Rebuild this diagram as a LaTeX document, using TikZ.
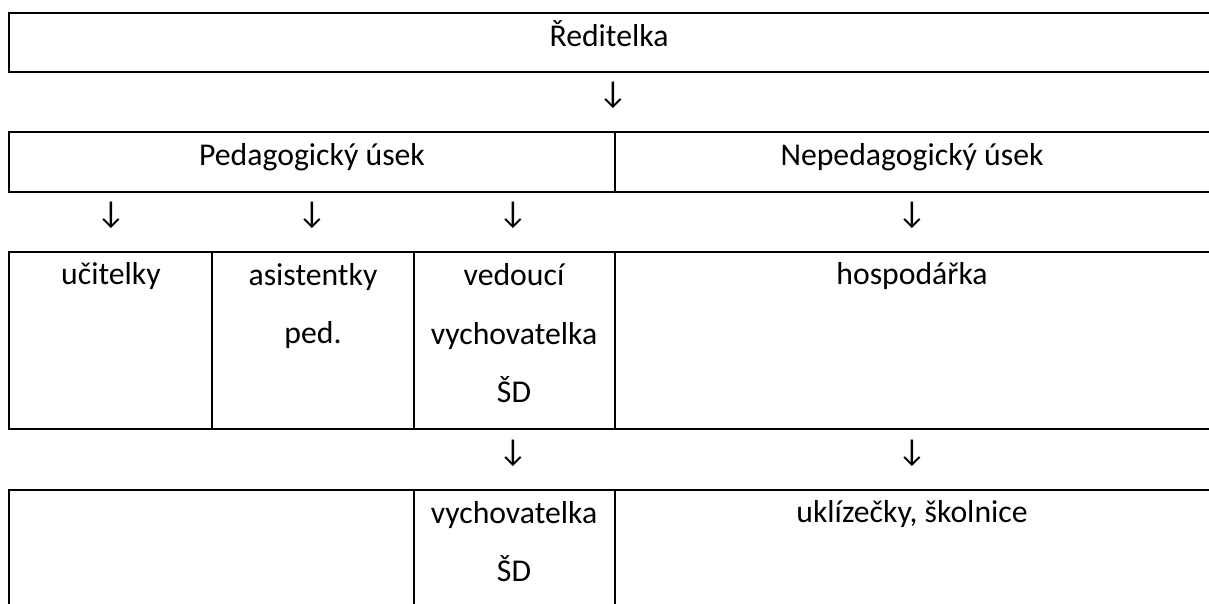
\documentclass[tikz,border=0pt]{standalone}
\usepackage{fontspec}
\setmainfont{Carlito}
\usepackage{tikz}

\begin{document}
\begin{tikzpicture}[x=0.375pt,y=-0.375pt,
        grid/.style = {line width=0.75pt},
        lbl/.style = {anchor=base, inner sep=0pt, align=center, font=\fontsize{11.9}{22.1}\selectfont},
        dn/.style = {lbl}]
        \useasboundingbox (0,0) rectangle (1209,604);
        \clip (0,0) rectangle (1209,604);
        % table lines
        \draw[grid] (9,13) rectangle (1240,72);
        \draw[grid] (9,132) rectangle (1240,192);
        \draw[grid] (615,132) -- (615,192);
        \draw[grid] (9,252) rectangle (1240,429);
        \foreach \x in {212,414,615} \draw[grid] (\x,252) -- (\x,429);
        \draw[grid] (9,640) -- (9,490) -- (1240,490);
        \foreach \x in {414,615} \draw[grid] (\x,490) -- (\x,640);
        % cells (base = last line)
        \node[lbl] (reditelka) at (609,47) {Ředitelka};
        \node[lbl] (ped) at (312,166) {Pedagogický úsek};
        \node[lbl] (neped) at (912,166) {Nepedagogický úsek};
        \node[lbl] (ucitelky) at (111,285) {učitelky};
        \node[lbl] (asist) at (313,344) {asistentky\\ped.};
        \node[lbl] (vedouci) at (514,403) {vedoucí\\vychovatelka\\ŠD};
        \node[lbl] (hosp) at (912,285) {hospodářka};
        \node[lbl] (vychov) at (514,582) {vychovatelka\\ŠD};
        \node[lbl] (uklid) at (912,523) {uklízečky, školnice};
        % arrows
        \node[dn] (d1) at (613,104) {↓};
        \node[dn] (d2) at (111,224) {↓};
        \node[dn] (d3) at (312,224) {↓};
        \node[dn] (d4) at (513,224) {↓};
        \node[dn] (d5) at (912,224) {↓};
        \node[dn] (d6) at (513,462) {↓};
        \node[dn] (d7) at (912,462) {↓};
\end{tikzpicture}
\end{document}
